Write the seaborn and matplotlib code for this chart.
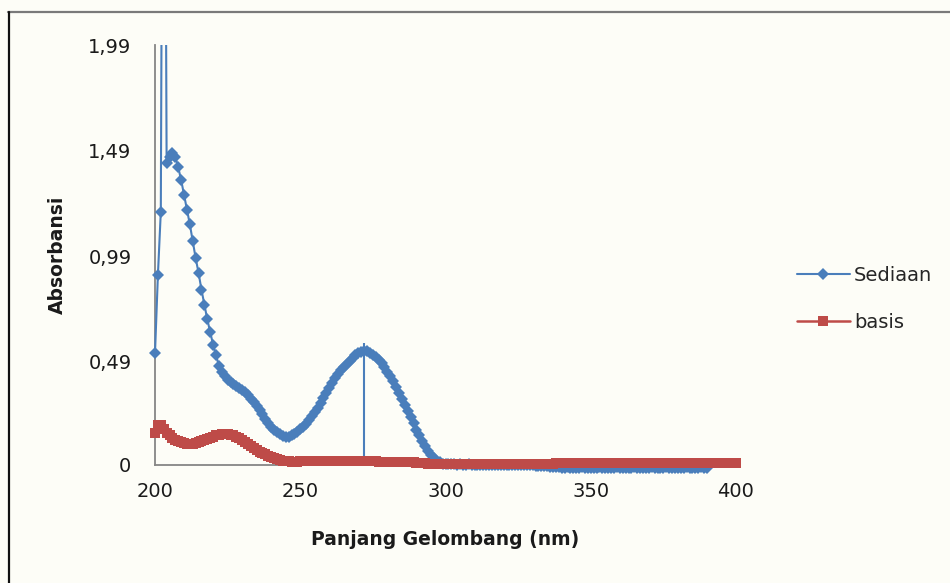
import matplotlib
matplotlib.use("Agg")
import matplotlib.pyplot as plt
import pandas as pd
import seaborn as sns
from matplotlib.lines import Line2D
from matplotlib.transforms import Bbox, TransformedBbox

# Absorbance spectra, one reading per nanometre
sediaan_nm = list(range(200, 391))
sediaan_abs = [
    0.53, 0.90, 1.20, 4.80, 1.43, 1.46, 1.48, 1.46, 1.41, 1.35,   # 200-209
    1.28, 1.21, 1.14, 1.06, 0.98, 0.91, 0.83, 0.76, 0.69, 0.63,   # 210-219
    0.57, 0.52, 0.47, 0.44, 0.42, 0.405, 0.395, 0.385, 0.375, 0.365,  # 220-229
    0.355, 0.345, 0.33, 0.315, 0.30, 0.28, 0.26, 0.24, 0.22, 0.20,   # 230-239
    0.18, 0.165, 0.155, 0.145, 0.138, 0.134, 0.135, 0.14, 0.148, 0.158,  # 240-249
    0.17, 0.182, 0.196, 0.212, 0.23, 0.25, 0.272, 0.295, 0.318, 0.342,  # 250-259
    0.365, 0.388, 0.41, 0.43, 0.45, 0.466, 0.48, 0.495, 0.508, 0.52,   # 260-269
    0.53, 0.537, 0.54, 0.538, 0.532, 0.523, 0.512, 0.498, 0.482, 0.463,  # 270-279
    0.442, 0.42, 0.396, 0.37, 0.342, 0.313, 0.284, 0.255, 0.226, 0.197,  # 280-289
    0.168, 0.14, 0.113, 0.088, 0.066, 0.047, 0.032, 0.02, 0.012, 0.007,  # 290-299
    0.004, 0.003, 0.003, 0.003, 0.002, 0.003, 0.002, 0.002, 0.003, 0.002,  # 300-309
    0.002, 0.001, 0.002, 0.002, 0.001, 0.001, 0.002, 0.001, 0.001, 0.000,  # 310-319
    0.001, 0.000, 0.000, 0.001, 0.000, 0.000, -0.001, 0.000, -0.001, -0.002,  # 320-329
    -0.002, -0.003, -0.004, -0.005, -0.006, -0.007, -0.008, -0.009, -0.010, -0.011,  # 330-339
    -0.012, -0.012, -0.011, -0.012, -0.013, -0.012, -0.012, -0.011, -0.012, -0.012,  # 340-349
    -0.013, -0.012, -0.012, -0.011, -0.012, -0.013, -0.012, -0.012, -0.012, -0.011,  # 350-359
    -0.012, -0.012, -0.013, -0.012, -0.012, -0.011, -0.012, -0.012, -0.013, -0.012,  # 360-369
    -0.012, -0.011, -0.012, -0.012, -0.013, -0.012, -0.011, -0.012, -0.012, -0.012,  # 370-379
    -0.013, -0.012, -0.012, -0.011, -0.012, -0.012, -0.013, -0.012, -0.011, -0.012,  # 380-389
    -0.012,                                                          # 390
]

basis_nm = list(range(200, 401))
basis_abs = [
    0.15, 0.19, 0.19, 0.17, 0.15, 0.14, 0.13, 0.12, 0.115, 0.11,      # 200-209
    0.105, 0.10, 0.10, 0.10, 0.105, 0.11, 0.115, 0.12, 0.125, 0.13,   # 210-219
    0.135, 0.14, 0.14, 0.145, 0.145, 0.145, 0.14, 0.14, 0.135, 0.13,  # 220-229
    0.12, 0.11, 0.10, 0.09, 0.08, 0.07, 0.06, 0.055, 0.05, 0.045,     # 230-239
    0.04, 0.035, 0.03, 0.025, 0.02, 0.018, 0.017, 0.016, 0.016, 0.016,  # 240-249
    0.017, 0.017, 0.018, 0.018, 0.018, 0.019, 0.019, 0.019, 0.019, 0.019,  # 250-259
    0.019, 0.019, 0.019, 0.019, 0.019, 0.019, 0.019, 0.019, 0.019, 0.019,  # 260-269
    0.019, 0.019, 0.019, 0.018, 0.018, 0.018, 0.017, 0.016, 0.015, 0.014,  # 270-279
    0.013, 0.012, 0.012, 0.012, 0.012, 0.012, 0.012, 0.012, 0.012, 0.012,  # 280-289
    0.011, 0.010, 0.009, 0.008, 0.007, 0.006, 0.005, 0.004, 0.004, 0.004,  # 290-299
    0.004, 0.004, 0.004, 0.004, 0.004, 0.004, 0.004, 0.004, 0.004, 0.004,  # 300-309
    0.004, 0.004, 0.004, 0.004, 0.004, 0.004, 0.004, 0.004, 0.004, 0.004,  # 310-319
    0.004, 0.004, 0.004, 0.004, 0.004, 0.004, 0.004, 0.004, 0.004, 0.004,  # 320-329
    0.004, 0.004, 0.004, 0.004, 0.004, 0.004, 0.004, 0.005, 0.009, 0.010,  # 330-339
    0.010, 0.010, 0.010, 0.010, 0.010, 0.010, 0.010, 0.010, 0.010, 0.010,  # 340-349
    0.010, 0.010, 0.010, 0.010, 0.010, 0.010, 0.010, 0.010, 0.010, 0.010,  # 350-359
    0.010, 0.010, 0.010, 0.010, 0.010, 0.010, 0.010, 0.010, 0.010, 0.010,  # 360-369
    0.010, 0.010, 0.010, 0.010, 0.010, 0.010, 0.010, 0.010, 0.010, 0.010,  # 370-379
    0.010, 0.010, 0.010, 0.010, 0.010, 0.010, 0.010, 0.010, 0.010, 0.010,  # 380-389
    0.010, 0.010, 0.010, 0.010, 0.010, 0.010, 0.010, 0.010, 0.010, 0.010,  # 390-399
    0.010,                                                          # 400
]

# Drop line marking the absorption maximum of the preparation
lambda_max_nm = 272
lambda_max_top = 0.58

series_names = ["Sediaan", "basis"]
x_ticks = [200, 250, 300, 350, 400]
y_ticks = [0, 0.49, 0.99, 1.49, 1.99]
y_tick_labels = ["0", "0,49", "0,99", "1,49", "1,99"]
x_title = "Panjang Gelombang (nm)"
y_title = "Absorbansi"

BLUE = "#4A7EBB"
RED = "#BE4B48"
BG = "#FDFDF7"

sns.set_style("white")
plt.rcParams["font.family"] = ["DejaVu Sans"]

fig = plt.figure(figsize=(9.5, 5.83), dpi=100, facecolor=BG)
ax = fig.add_axes([155 / 950, 1 - 465 / 583, 581 / 950, 420 / 583])
ax.set_facecolor(BG)

df_sediaan = pd.DataFrame({"nm": sediaan_nm, "abs": sediaan_abs})
df_basis = pd.DataFrame({"nm": basis_nm, "abs": basis_abs})

sns.lineplot(data=df_sediaan, x="nm", y="abs", ax=ax, color=BLUE, lw=1.5,
             marker="D", markersize=6, markeredgewidth=0, sort=False,
             estimator=None, label=series_names[0], legend=False)
blue_line = ax.lines[-1]

ax.vlines(lambda_max_nm, 0, lambda_max_top, color=BLUE, lw=1.5, zorder=2)

sns.lineplot(data=df_basis, x="nm", y="abs", ax=ax, color=RED, lw=1.8,
             marker="s", markersize=6.8, markeredgewidth=0, sort=False,
             estimator=None, label=series_names[1], legend=False)
red_line = ax.lines[-1]

ax.set_xlim(200, 400)
ax.set_ylim(0, 1.99)

# Markers at the plot edges are drawn whole; the spike is cut at the top
clip_box = TransformedBbox(Bbox([[196, -0.05], [404, 1.99]]), ax.transData)
blue_line.set_clip_box(clip_box)
red_line.set_clip_on(False)

ax.set_xticks(x_ticks)
ax.set_xticklabels([str(v) for v in x_ticks])
ax.set_yticks(y_ticks)
ax.set_yticklabels(y_tick_labels)
ax.tick_params(axis="both", length=0, labelsize=14, colors="#1a1a1a")
ax.tick_params(axis="y", pad=17)
ax.tick_params(axis="x", pad=12)

for side in ["top", "right"]:
    ax.spines[side].set_visible(False)
for side in ["left", "bottom"]:
    ax.spines[side].set_color("#868686")
    ax.spines[side].set_linewidth(1.3)
    ax.spines[side].set_zorder(0.5)

ax.set_xlabel(x_title, fontsize=13.5, fontweight="bold", color="#1a1a1a")
ax.set_ylabel(y_title, fontsize=13.5, fontweight="bold", color="#1a1a1a")
ax.xaxis.set_label_coords(0.5, -0.155)
ax.yaxis.set_label_coords(-0.152, 0.5)

handles = [
    Line2D([], [], color=BLUE, lw=1.5, marker="D", markersize=6, markeredgewidth=0),
    Line2D([], [], color=RED, lw=1.8, marker="s", markersize=6.8, markeredgewidth=0),
]
fig.legend(handles, series_names, loc="center left",
           bbox_to_anchor=(779 / 950, 1 - 299 / 583), frameon=False,
           fontsize=14, handlelength=2.75, handletextpad=0.2, labelspacing=1.45)

# Frame lines along the top and left edges of the picture
fig.add_artist(Line2D([8 / 950, 1], [1 - 12 / 583, 1 - 12 / 583],
                      transform=fig.transFigure, color="#7a7a7a", lw=1.6))
fig.add_artist(Line2D([8.5 / 950, 8.5 / 950], [0, 1 - 12 / 583],
                      transform=fig.transFigure, color="#111111", lw=1.6))

fig.savefig("out.png", dpi=100, facecolor=BG)
